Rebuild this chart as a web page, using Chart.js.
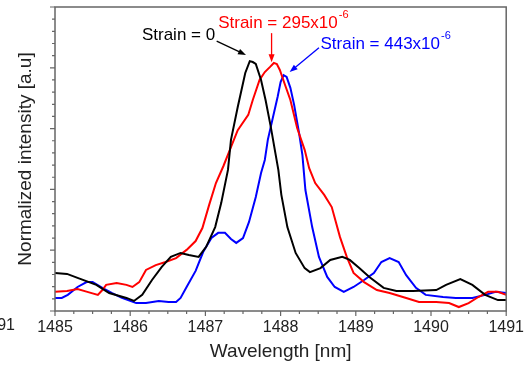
<!DOCTYPE html>
<html>
<head>
<meta charset="utf-8">
<script src="https://cdn.jsdelivr.net/npm/chart.js@4/dist/chart.umd.min.js"></script>
<style>
  html, body { margin: 0; padding: 0; background: #fff; }
  canvas { display: block; }
</style>
</head>
<body>
<canvas id="spectrum" width="531" height="365"></canvas>
<script>
// values: wavelength [nm] and normalized intensity

const wlStrain0 = [1485.00, 1485.16, 1485.30, 1485.55, 1485.72, 1485.95, 1486.05, 1486.16, 1486.29, 1486.42,
  1486.54, 1486.67, 1486.78, 1486.91, 1487.01, 1487.13, 1487.21, 1487.30, 1487.34, 1487.43,
  1487.53, 1487.59, 1487.63, 1487.67, 1487.74, 1487.80, 1487.87, 1487.93, 1487.97, 1488.01,
  1488.09, 1488.20, 1488.32, 1488.39, 1488.53, 1488.66, 1488.82, 1488.92, 1489.05, 1489.18,
  1489.37, 1489.54, 1489.76, 1490.07, 1490.20, 1490.39, 1490.55, 1490.72, 1490.89, 1491.00];
const intStrain0 = [0.125, 0.122, 0.109, 0.086, 0.059, 0.043, 0.033, 0.053, 0.102, 0.145,
  0.178, 0.191, 0.184, 0.178, 0.211, 0.276, 0.355, 0.464, 0.563, 0.671,
  0.783, 0.822, 0.819, 0.813, 0.760, 0.694, 0.605, 0.520, 0.464, 0.382,
  0.276, 0.191, 0.141, 0.128, 0.141, 0.168, 0.178, 0.168, 0.141, 0.112,
  0.076, 0.066, 0.066, 0.069, 0.086, 0.105, 0.086, 0.053, 0.036, 0.036];

const wlStrain295 = [1485.00, 1485.16, 1485.30, 1485.43, 1485.57, 1485.63, 1485.68, 1485.82, 1485.95, 1486.03,
  1486.12, 1486.21, 1486.34, 1486.47, 1486.61, 1486.75, 1486.87, 1486.96, 1487.05, 1487.14,
  1487.24, 1487.34, 1487.43, 1487.57, 1487.63, 1487.72, 1487.79, 1487.86, 1487.91, 1487.95,
  1487.99, 1488.05, 1488.13, 1488.22, 1488.32, 1488.38, 1488.46, 1488.58, 1488.68, 1488.79,
  1488.88, 1488.97, 1489.11, 1489.28, 1489.45, 1489.67, 1489.84, 1490.07, 1490.24, 1490.37,
  1490.50, 1490.63, 1490.76, 1490.89, 1491.00];
const intStrain295 = [0.063, 0.066, 0.072, 0.063, 0.053, 0.069, 0.086, 0.092, 0.086, 0.079,
  0.095, 0.135, 0.151, 0.161, 0.174, 0.201, 0.230, 0.273, 0.349, 0.421,
  0.477, 0.539, 0.595, 0.645, 0.694, 0.760, 0.786, 0.803, 0.816, 0.812,
  0.793, 0.750, 0.694, 0.602, 0.530, 0.470, 0.421, 0.382, 0.342, 0.243,
  0.178, 0.125, 0.095, 0.069, 0.059, 0.043, 0.030, 0.030, 0.026, 0.013,
  0.026, 0.046, 0.063, 0.063, 0.053];

const wlStrain443 = [1485.00, 1485.09, 1485.17, 1485.30, 1485.42, 1485.50, 1485.63, 1485.76, 1485.89, 1486.08,
  1486.21, 1486.38, 1486.51, 1486.61, 1486.67, 1486.75, 1486.87, 1486.97, 1487.08, 1487.17,
  1487.26, 1487.34, 1487.41, 1487.50, 1487.58, 1487.67, 1487.74, 1487.79, 1487.83, 1487.89,
  1487.96, 1488.00, 1488.04, 1488.08, 1488.13, 1488.18, 1488.25, 1488.29, 1488.33, 1488.42,
  1488.51, 1488.62, 1488.72, 1488.84, 1488.97, 1489.11, 1489.24, 1489.34, 1489.45, 1489.57,
  1489.67, 1489.80, 1489.93, 1490.16, 1490.33, 1490.55, 1490.72, 1490.86, 1491.00];
const intStrain443 = [0.043, 0.043, 0.053, 0.079, 0.095, 0.095, 0.076, 0.059, 0.043, 0.026,
  0.026, 0.033, 0.030, 0.030, 0.043, 0.079, 0.132, 0.194, 0.240, 0.257,
  0.257, 0.237, 0.224, 0.240, 0.293, 0.375, 0.454, 0.497, 0.563, 0.628,
  0.704, 0.753, 0.776, 0.770, 0.734, 0.678, 0.579, 0.513, 0.398, 0.276,
  0.178, 0.112, 0.079, 0.063, 0.079, 0.102, 0.125, 0.161, 0.174, 0.161,
  0.118, 0.076, 0.053, 0.046, 0.043, 0.043, 0.053, 0.063, 0.059];

const xTickValues = [1485, 1486, 1487, 1488, 1489, 1490, 1491];

// annotation labels: text, colour, text anchor and arrow (tail -> tip) in data units
const labels = [
  { text: 'Strain = 0', sup: '', color: '#000000', align: 'right', at: [1487.13, 0.906],
    tail: [1487.15, 0.888], tip: [1487.54, 0.842] },
  { text: 'Strain = 295x10', sup: '-6', color: '#ff0000', align: 'left', at: [1487.17, 0.947],
    tail: [1487.88, 0.914], tip: [1487.88, 0.818] },
  { text: 'Strain = 443x10', sup: '-6', color: '#0000ff', align: 'left', at: [1488.53, 0.878],
    tail: [1488.51, 0.866], tip: [1488.12, 0.786] }
];

const FONT = "'Liberation Sans', Arial, sans-serif";

function toPoints(xs, ys) {
  return xs.map((x, i) => ({ x: x, y: ys[i] }));
}

const framePlugin = {
  id: 'frame',
  afterDatasetsDraw(chart) {
    const { ctx, chartArea: a, scales: { x, y } } = chart;
    ctx.save();
    ctx.strokeStyle = '#666';
    ctx.lineWidth = 1.5;
    ctx.strokeRect(a.left, a.top, a.right - a.left, a.bottom - a.top);

    ctx.lineWidth = 1.2;
    ctx.beginPath();
    // x ticks: major every 1 nm, minor every 0.25 nm
    for (let i = 0; i <= 24; i++) {
      const px = x.getPixelForValue(1485 + i * 0.25);
      const len = i % 4 === 0 ? 5 : 3;
      ctx.moveTo(px, a.bottom);
      ctx.lineTo(px, a.bottom + len);
    }
    // y ticks: major every 0.2, minor every 0.04
    for (let i = 0; i <= 25; i++) {
      const py = y.getPixelForValue(i * 0.04);
      const len = i % 5 === 0 ? 5 : 3;
      ctx.moveTo(a.left, py);
      ctx.lineTo(a.left - len, py);
    }
    ctx.stroke();

    // clipped tick label of the neighbouring panel at the far left
    ctx.fillStyle = '#222';
    ctx.font = '16px ' + FONT;
    ctx.textAlign = 'right';
    ctx.textBaseline = 'middle';
    ctx.fillText('1491', a.left - 40, a.bottom + 15);
    ctx.restore();
  }
};

const labelPlugin = {
  id: 'strainLabels',
  afterDatasetsDraw(chart) {
    const { ctx, scales: { x, y } } = chart;
    ctx.save();
    labels.forEach(l => {
      const tx = x.getPixelForValue(l.at[0]);
      const ty = y.getPixelForValue(l.at[1]);
      ctx.fillStyle = l.color;
      ctx.strokeStyle = l.color;
      ctx.font = '17px ' + FONT;
      ctx.textBaseline = 'middle';
      ctx.textAlign = l.align;
      ctx.fillText(l.text, tx, ty);
      if (l.sup) {
        const w = ctx.measureText(l.text).width;
        ctx.font = '11px ' + FONT;
        ctx.textAlign = 'left';
        ctx.fillText(l.sup, tx + w + 1, ty - 8);
      }
      // arrow
      const x0 = x.getPixelForValue(l.tail[0]), y0 = y.getPixelForValue(l.tail[1]);
      const x1 = x.getPixelForValue(l.tip[0]), y1 = y.getPixelForValue(l.tip[1]);
      const ang = Math.atan2(y1 - y0, x1 - x0);
      ctx.lineWidth = 1.3;
      ctx.beginPath();
      ctx.moveTo(x0, y0);
      ctx.lineTo(x1 - 6 * Math.cos(ang), y1 - 6 * Math.sin(ang));
      ctx.stroke();
      ctx.beginPath();
      ctx.moveTo(x1, y1);
      ctx.lineTo(x1 - 8 * Math.cos(ang) + 3 * Math.sin(ang), y1 - 8 * Math.sin(ang) - 3 * Math.cos(ang));
      ctx.lineTo(x1 - 8 * Math.cos(ang) - 3 * Math.sin(ang), y1 - 8 * Math.sin(ang) + 3 * Math.cos(ang));
      ctx.closePath();
      ctx.fill();
    });
    ctx.restore();
  }
};

const ctx = document.getElementById('spectrum').getContext('2d');

const line = (label, xs, ys, color) => ({
  label,
  data: toPoints(xs, ys),
  borderColor: color,
  borderWidth: 2,
  pointRadius: 0,
  fill: false,
  tension: 0
});

new Chart(ctx, {
  type: 'line',
  data: {
    datasets: [
      line('Strain = 0', wlStrain0, intStrain0, '#000000'),
      line('Strain = 295x10-6', wlStrain295, intStrain295, '#ff0000'),
      line('Strain = 443x10-6', wlStrain443, intStrain443, '#0000ff')
    ]
  },
  options: {
    responsive: false,
    animation: false,
    devicePixelRatio: 1,
    layout: { padding: { top: 7, right: 20, left: 0, bottom: 0 } },
    plugins: {
      legend: { display: false },
      tooltip: { enabled: false }
    },
    scales: {
      x: {
        type: 'linear',
        min: 1485,
        max: 1491,
        afterBuildTicks: s => { s.ticks = xTickValues.map(v => ({ value: v })); },
        afterFit: s => { s.height = 54; },
        grid: { display: false, drawTicks: false },
        border: { display: false },
        ticks: {
          padding: 7,
          color: '#222',
          font: { family: FONT, size: 16 },
          maxRotation: 0,
          callback: v => String(v)
        },
        title: {
          display: true,
          text: 'Wavelength [nm]',
          color: '#222',
          font: { family: FONT, size: 19 },
          padding: { top: 0, bottom: 2 }
        }
      },
      y: {
        min: 0,
        max: 1,
        afterFit: s => { s.width = 55; },
        grid: { display: false, drawTicks: false },
        border: { display: false },
        ticks: { display: false },
        title: {
          display: true,
          text: 'Normalized intensity [a.u]',
          color: '#222',
          font: { family: FONT, size: 19 },
          padding: { top: 14, bottom: 0 }
        }
      }
    }
  },
  plugins: [framePlugin, labelPlugin]
});
</script>
</body>
</html>
